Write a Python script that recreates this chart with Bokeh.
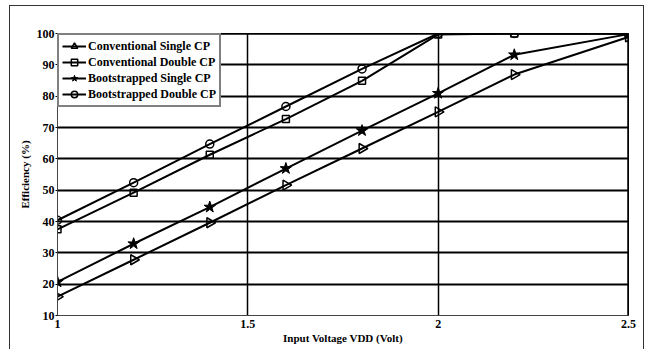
import math
from bokeh.plotting import figure
from bokeh.models import LegendItem, Legend, Span
from bokeh.embed import file_html
from bokeh.resources import INLINE

# Input voltage sweep (V) and measured efficiencies (%)
vdd = [1.0, 1.2, 1.4, 1.6, 1.8, 2.0, 2.2, 2.5]
conv_single = [16.0, 27.8, 39.6, 51.6, 63.3, 75.0, 86.9, 98.9]
conv_double = [37.5, 49.2, 61.3, 72.7, 84.9, 99.7, 100.0, 100.0]
boot_single = [20.7, 32.9, 44.6, 56.9, 69.0, 80.9, 93.2, 99.8]
boot_double = [40.4, 52.4, 64.7, 76.7, 88.7, 100.0, 100.0, 100.0]

x_ticks = [1, 1.5, 2, 2.5]
y_ticks = [10, 20, 30, 40, 50, 60, 70, 80, 90, 100]

FONT = "'Liberation Serif', 'Times New Roman', serif"

p = figure(width=635, height=344, x_range=(1, 2.5), y_range=(10, 100),
           output_backend="svg", toolbar_location=None,
           min_border_left=47, min_border_right=17, min_border_top=27,
           min_border_bottom=35)
p.margin = (5, 0, 0, 9)
p.styles = {"border-left": "1px solid #333", "border-top": "1px solid #333",
            "border-right": "1px solid #333"}

p.outline_line_color = "black"
p.outline_line_width = 1

p.xaxis.ticker = x_ticks
p.yaxis.ticker = y_ticks
for ax in (p.xaxis, p.yaxis):
    ax.major_label_text_font = FONT
    ax.major_label_text_font_style = "bold"
    ax.major_label_text_font_size = "12px"
    ax.major_label_text_color = "black"
    ax.axis_label_text_font = FONT
    ax.axis_label_text_font_style = "bold"
    ax.axis_label_text_font_size = "11px"
    ax.axis_label_text_color = "black"
    ax.axis_line_color = "#444444"
    ax.axis_line_width = 1
    ax.minor_tick_line_color = None
    ax.major_tick_line_color = "black"
    ax.major_tick_in = 0
    ax.major_tick_out = 2
p.xaxis.major_tick_line_color = None
p.xaxis.major_label_standoff = 2
p.yaxis.major_label_standoff = 1
p.xaxis.axis_label = "Input Voltage VDD (Volt)"
p.yaxis.axis_label = "Efficiency (%)"
p.xaxis.axis_label_standoff = 1
p.yaxis.axis_label_standoff = 3

p.ygrid.grid_line_color = "black"
p.ygrid.grid_line_width = 2
p.xgrid.grid_line_color = "black"
p.xgrid.grid_line_width = 1.5

p.add_layout(Span(location=100, dimension="width", line_color="black", line_width=2.5))
p.add_layout(Span(location=2.5, dimension="height", line_color="black", line_width=2.5))

LW = 2
items = []

l1 = p.line(vdd, conv_single, line_color="black", line_width=LW)
m1 = p.scatter(vdd, conv_single, marker="triangle", angle=-math.pi / 2, size=10,
               line_color="black", line_width=1.5, fill_alpha=0)
items.append(LegendItem(label="Conventional Single CP", renderers=[l1, m1]))

l2 = p.line(vdd, conv_double, line_color="black", line_width=LW)
m2 = p.scatter(vdd, conv_double, marker="square", size=7,
               line_color="black", line_width=1.5, fill_alpha=0)
items.append(LegendItem(label="Conventional Double CP", renderers=[l2, m2]))

l3 = p.line(vdd, boot_single, line_color="black", line_width=LW)
m3 = p.scatter(vdd, boot_single, marker="star", size=12,
               line_color="black", fill_color="black")
items.append(LegendItem(label="Bootstrapped Single CP", renderers=[l3, m3]))

l4 = p.line(vdd, boot_double, line_color="black", line_width=LW)
m4 = p.scatter(vdd, boot_double, marker="circle", size=8,
               line_color="black", line_width=1.5, fill_alpha=0)
items.append(LegendItem(label="Bootstrapped Double CP", renderers=[l4, m4]))

legend = Legend(items=items, location="top_left")
legend.margin = 0
legend.padding = 3
legend.spacing = 0
legend.label_height = 16
legend.glyph_height = 16
legend.glyph_width = 24
legend.label_standoff = 2
legend.label_text_font = FONT
legend.label_text_font_style = "bold"
legend.label_text_font_size = "12px"
legend.label_text_color = "black"
legend.border_line_color = "black"
legend.border_line_width = 2
legend.background_fill_alpha = 1
p.add_layout(legend)

open("out.html", "w").write(file_html(p, INLINE))
